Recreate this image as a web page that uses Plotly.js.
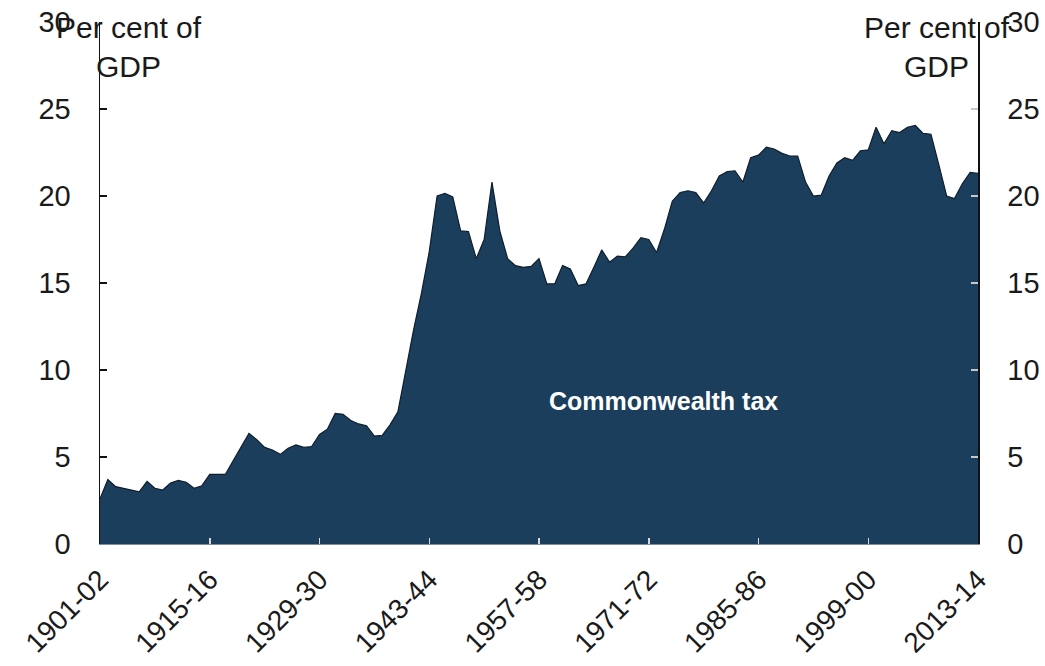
<!DOCTYPE html>
<html>
<head>
<meta charset="utf-8">
<script src="https://cdn.plot.ly/plotly-3.0.1.min.js"></script>
<style>
  html, body { margin: 0; padding: 0; background: #ffffff; }
  #chart { width: 1045px; height: 666px; }
</style>
</head>
<body>
<div id="chart"></div>
<script>
// Financial years (start year), 1901-02 to 2013-14
var firstYear = 1901;
var lastYear = 2013;
var years = [];
for (var yr = firstYear; yr <= lastYear; yr++) { years.push(yr); }

// Commonwealth tax, per cent of GDP
var commonwealthTax = [
  2.6, 3.7, 3.3, 3.2, 3.1, 3.0, 3.6, 3.2, 3.1, 3.5,
  3.65, 3.55, 3.2, 3.35, 4.0, 4.0, 4.0, 4.8, 5.6, 6.35,
  6.0, 5.55, 5.4, 5.15, 5.5, 5.7, 5.55, 5.6, 6.3, 6.6,
  7.5, 7.45, 7.1, 6.9, 6.8, 6.2, 6.25, 6.85, 7.6, 10.0,
  12.3, 14.4, 16.8, 20.0, 20.15, 19.95, 18.0, 17.95, 16.4, 17.5,
  20.8, 18.0, 16.4, 16.0, 15.9, 15.95, 16.4, 14.95, 14.95, 16.0,
  15.8, 14.85, 14.95, 15.9, 16.9, 16.2, 16.55, 16.5, 17.0, 17.6,
  17.5, 16.75, 18.1, 19.7, 20.2, 20.3, 20.2, 19.6, 20.3, 21.15,
  21.4, 21.45, 20.8, 22.2, 22.35, 22.8, 22.7, 22.45, 22.3, 22.3,
  20.8, 20.0, 20.05, 21.15, 21.9, 22.2, 22.05, 22.6, 22.65, 23.95,
  23.0, 23.75, 23.65, 23.95, 24.05, 23.6, 23.55, 21.8, 20.0, 19.85,
  20.7, 21.35, 21.3
];

var tickYears = [1901, 1915, 1929, 1943, 1957, 1971, 1985, 1999, 2013];
var tickLabels = ['1901-02', '1915-16', '1929-30', '1943-44', '1957-58',
                  '1971-72', '1985-86', '1999-00', '2013-14'];

var yTicks = [0, 5, 10, 15, 20, 25, 30];
var yTickLabels = ['0', '5', '10', '15', '20', '25', '30'];

var seriesName = 'Commonwealth tax';
var unitLabel = 'Per cent of<br>GDP';

var FONT = 'Liberation Sans, Arial, Helvetica, sans-serif';

var traces = [
  {
    x: years,
    y: commonwealthTax,
    type: 'scatter',
    mode: 'lines',
    fill: 'tozeroy',
    fillcolor: '#1c3e5d',
    line: { color: '#0f1e2c', width: 1.2 },
    name: seriesName,
    showlegend: false
  },
  {
    x: [years[0]],
    y: [0],
    yaxis: 'y2',
    type: 'scatter',
    mode: 'markers',
    marker: { opacity: 0 },
    hoverinfo: 'skip',
    showlegend: false
  }
];

var layout = {
  width: 1045,
  height: 666,
  paper_bgcolor: '#ffffff',
  plot_bgcolor: '#ffffff',
  margin: { l: 100, r: 67, t: 22, b: 122 },
  font: { family: FONT, size: 29, color: '#1a1a1a' },
  showlegend: false,
  xaxis: {
    range: [firstYear, lastYear],
    tickmode: 'array',
    tickvals: tickYears,
    ticktext: tickLabels,
    tickangle: -45,
    ticks: 'inside',
    ticklen: 6,
    tickwidth: 1.5,
    tickcolor: '#d8d8d8',
    showgrid: false,
    zeroline: false,
    showline: true,
    linecolor: '#7f8e9b',
    linewidth: 1,
    tickfont: { family: FONT, size: 28, color: '#1a1a1a' },
    ticklabelstandoff: 7
  },
  yaxis: {
    range: [0, 30],
    tickmode: 'array',
    tickvals: yTicks,
    ticktext: yTickLabels,
    ticks: 'inside',
    ticklen: 7,
    tickwidth: 1.5,
    tickcolor: '#111111',
    showgrid: false,
    zeroline: false,
    showline: true,
    linecolor: '#111111',
    linewidth: 1.5,
    tickfont: { family: FONT, size: 29, color: '#1a1a1a' },
    ticklabelstandoff: 22
  },
  yaxis2: {
    range: [0, 30],
    overlaying: 'y',
    side: 'right',
    tickmode: 'array',
    tickvals: yTicks,
    ticktext: yTickLabels,
    ticks: 'inside',
    ticklen: 7,
    tickwidth: 1.5,
    tickcolor: '#c8c8c8',
    showgrid: false,
    zeroline: false,
    showline: true,
    linecolor: '#111111',
    linewidth: 1.5,
    tickfont: { family: FONT, size: 29, color: '#1a1a1a' },
    ticklabelstandoff: 22
  },
  annotations: [
    {
      xref: 'paper', yref: 'paper',
      x: 0.033, y: 0.953,
      xanchor: 'center', yanchor: 'middle',
      text: unitLabel,
      showarrow: false,
      align: 'center',
      font: { family: FONT, size: 30, color: '#1a1a1a' }
    },
    {
      xref: 'paper', yref: 'paper',
      x: 0.953, y: 0.953,
      xanchor: 'center', yanchor: 'middle',
      text: unitLabel,
      showarrow: false,
      align: 'center',
      font: { family: FONT, size: 30, color: '#1a1a1a' }
    },
    {
      xref: 'x', yref: 'y',
      x: 1972.9, y: 8.2,
      xanchor: 'center', yanchor: 'middle',
      text: '<b>' + seriesName + '</b>',
      showarrow: false,
      font: { family: FONT, size: 25, color: '#ffffff' }
    }
  ]
};

Plotly.newPlot('chart', traces, layout, { displayModeBar: false, staticPlot: true });
</script>
</body>
</html>
